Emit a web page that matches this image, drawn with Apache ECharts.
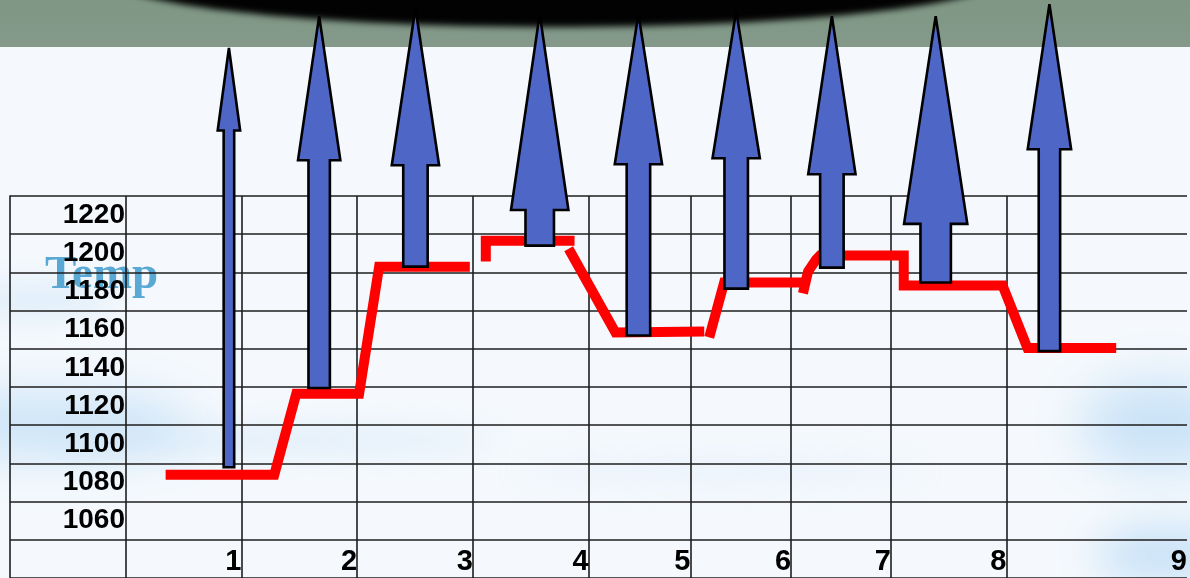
<!DOCTYPE html>
<html><head><meta charset="utf-8">
<script src="https://cdn.jsdelivr.net/npm/echarts@6/dist/echarts.min.js"></script>
<style>html,body{margin:0;padding:0;background:#f4f8fc;overflow:hidden}#c{width:1190px;height:578px}</style>
</head><body><div id="c"></div>
<script>
// ---- table axes ----
const rowLabels = ['', '1060', '1080', '1100', '1120', '1140', '1160', '1180', '1200', '1220'];
const colLabels = ['1', '2', '3', '4', '5', '6', '7', '8', '9'];
const colEdges = [0, 1, 2, 3, 4, 4.879, 5.75, 6.612, 7.612];
const colLabelAt = [1, 2, 3, 4, 4.879, 5.75, 6.612, 7.612, 9.172];

// ---- temperature schedule (red line), broken into pieces ----
const tempSegA = [[0.345, 1084], [1.284, 1084], [1.474, 1126.5], [2.017, 1126.5], [2.190, 1193], [2.974, 1193]];
const tempSegB = [[3.112, 1195.7], [3.112, 1206.6], [3.879, 1206.6]];
const tempSegC = [[3.828, 1202.4], [4.233, 1158.5], [5.0, 1159]];
const tempSegD = [[5.043, 1156], [5.172, 1184.7], [5.862, 1184.7]];
const tempSegE = [[5.853, 1179], [5.897, 1190.5], [5.966, 1196.7], [6.0, 1198.8], [6.724, 1198.8], [6.724, 1183.2], [7.578, 1183.2], [7.793, 1150.4], [8.56, 1150.4]];

// ---- blue arrows ----
const arrowX     = [0.892, 1.672, 2.504, 3.578, 4.431, 5.276, 6.103, 7.0, 7.983];
const arrowBase  = [1088, 1129.5, 1193, 1204, 1157, 1181.5, 1192.5, 1184.7, 1148.8];
const arrowNeck  = [1264.3, 1248.7, 1246.1, 1222.7, 1246.6, 1249.8, 1241.4, 1215.4, 1254.5];
const arrowTip   = [1307.5, 1324.2, 1328.3, 1325.2, 1325.2, 1326.8, 1324.2, 1324.2, 1330.4];
const arrowShaft = [0.091, 0.185, 0.211, 0.246, 0.203, 0.203, 0.203, 0.263, 0.185];
const arrowHead  = [0.194, 0.366, 0.409, 0.496, 0.409, 0.409, 0.409, 0.547, 0.375];

const chart = echarts.init(document.getElementById('c'), null, {renderer: 'canvas'});

const arrowData = arrowX.map((x, i) => [x, arrowBase[i], arrowNeck[i], arrowTip[i], arrowShaft[i], arrowHead[i]]);
const lineCol = '#1e1e1e';
const OFF = 3000;

// soft blurred blob: the shape sits off-canvas, only its blurred shadow lands in place
function blob(cx, cy, rx, ry, color, blur, z) {
  return {
    type: 'ellipse', z: z, silent: true,
    shape: {cx: cx - OFF, cy: cy, rx: rx, ry: ry},
    style: {fill: color, shadowBlur: blur, shadowColor: color, shadowOffsetX: OFF}
  };
}

function redSeries(seg) {
  return {
    type: 'line', xAxisIndex: 0, yAxisIndex: 1, data: seg, symbol: 'none', z: 3,
    clip: false, silent: true, animation: false,
    lineStyle: {color: '#ff0000', width: 10, cap: 'butt', join: 'miter'}
  };
}

const cloudCol = 'rgba(196,224,246,0.95)';
const option = {
  animation: false,
  backgroundColor: '#f5f9fd',
  graphic: [
    blob(45, 425, 150, 30, cloudCol, 50, -95),
    blob(280, 440, 220, 12, 'rgba(198,225,246,0.7)', 30, -95),
    blob(1160, 425, 80, 45, cloudCol, 50, -95),
    blob(1165, 555, 70, 30, cloudCol, 40, -95),
    blob(35, 300, 80, 16, 'rgba(198,225,246,0.7)', 30, -95),
    blob(720, 470, 200, 12, 'rgba(198,225,246,0.5)', 30, -95),
    {type: 'rect', z: -90, silent: true, shape: {x: 0, y: 0, width: 1190, height: 47},
      style: {fill: {type: 'linear', x: 0, y: 0, x2: 0, y2: 1, colorStops: [
        {offset: 0, color: '#7f9784'}, {offset: 1, color: '#84998a'}]}}},
    {type: 'group', z: -89, silent: true, clipPath: {type: 'rect', shape: {x: 0, y: 0, width: 1190, height: 47}},
      children: [blob(555, -24, 448, 51, '#020202', 6, -89)]},
    {type: 'text', z: -80, silent: true, x: 45, y: 276,
      style: {text: 'Temp', font: 'bold 47px "Liberation Serif"', fill: '#5aa9d4', verticalAlign: 'middle', align: 'left'}}
  ],
  grid: {left: 10, right: 0, top: 196, height: 384.4, containLabel: false},
  xAxis: {
    type: 'value', min: -1, max: 9.172,
    axisLine: {show: false},
    axisTick: {show: false, customValues: colEdges},
    splitLine: {show: true, lineStyle: {color: lineCol, width: 1.6}},
    axisLabel: {
      customValues: colLabelAt, inside: true, margin: 2, align: 'right', verticalAlign: 'bottom',
      fontSize: 29, fontWeight: 'bold', color: '#000', fontFamily: 'Liberation Sans',
      formatter: function (v) {
        let best = 0;
        colLabelAt.forEach((c, i) => { if (Math.abs(c - v) < Math.abs(colLabelAt[best] - v)) best = i; });
        return colLabels[best];
      }
    }
  },
  yAxis: [
    {
      type: 'category', data: rowLabels, boundaryGap: true,
      axisLine: {show: true, onZero: false, lineStyle: {color: lineCol, width: 1.6}},
      axisTick: {show: false},
      splitLine: {show: true, interval: 0, lineStyle: {color: lineCol, width: 1.6}},
      axisLabel: {inside: true, interval: 0, margin: 115, align: 'right',
        fontSize: 28, fontWeight: 'bold', color: '#000', fontFamily: 'Liberation Sans'}
    },
    {type: 'value', min: 1030, max: 1230, show: false}
  ],
  series: [
    redSeries(tempSegA), redSeries(tempSegB), redSeries(tempSegC), redSeries(tempSegD), redSeries(tempSegE),
    {
      type: 'custom', xAxisIndex: 0, yAxisIndex: 1, data: arrowData, z: 5, clip: false, silent: true,
      encode: {x: 0, y: [1, 2, 3]},
      renderItem: function (params, api) {
        const x = api.value(0), b = api.value(1), n = api.value(2), t = api.value(3);
        const sw = api.value(4) / 2, hw = api.value(5) / 2;
        const pts = [[x - sw, b], [x - sw, n], [x - hw, n], [x, t], [x + hw, n], [x + sw, n], [x + sw, b]]
          .map(p => api.coord(p));
        return {type: 'polygon', shape: {points: pts},
          style: {fill: '#4e67c7', stroke: '#000', lineWidth: 2.6, lineJoin: 'miter', miterLimit: 2}};
      }
    }
  ]
};
chart.setOption(option);
</script></body></html>
